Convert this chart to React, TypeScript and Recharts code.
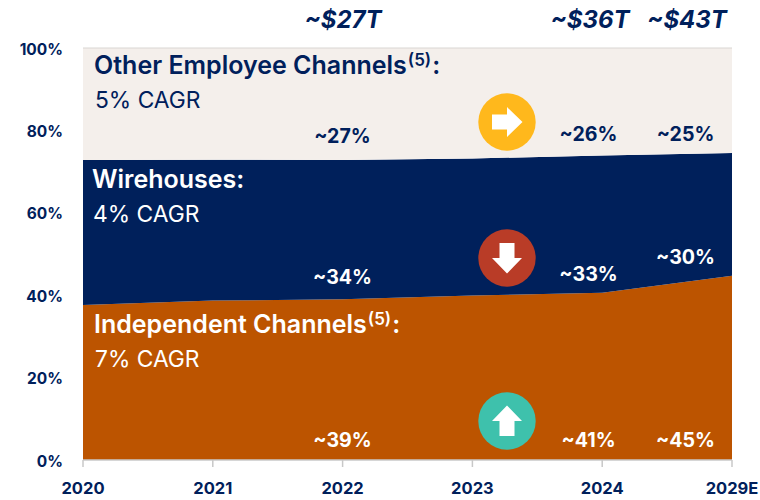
import React from "react";
import { AreaChart, Area, XAxis, YAxis, ReferenceLine, ReferenceDot } from "recharts";

const years = ["2020", "2021", "2022", "2023", "2024", "2029E"];
const independent = [37.6, 38.7, 39.0, 39.9, 40.6, 44.7];
const wirehouses = [35.2, 34.2, 33.8, 33.3, 33.3, 29.8];
const otherEmployee = [27.2, 27.1, 27.2, 26.8, 26.1, 25.5];
const yTicks = [0, 20, 40, 60, 80, 100];

const data = years.map((year, i) => ({
  year,
  independent: independent[i],
  wirehouses: wirehouses[i],
  otherEmployee: otherEmployee[i],
}));

const NAVY = "#00205B";
const ORANGE = "#BC5400";
const CREAM = "#F4EFEB";
const GRAY = "#C8C8C8";
const FONT = "Inter, sans-serif";
const WIDTH = 760;
const HEIGHT = 500;

const totals = [
  { label: "~$27T", x: 343 },
  { label: "~$36T", x: 590 },
  { label: "~$43T", x: 687 },
];

const shares = [
  { label: "~27%", x: 342.5, y: 143, color: NAVY },
  { label: "~26%", x: 588.5, y: 141, color: NAVY },
  { label: "~25%", x: 685.5, y: 141, color: NAVY },
  { label: "~34%", x: 342.5, y: 284, color: "#fff" },
  { label: "~33%", x: 588.5, y: 280.5, color: "#fff" },
  { label: "~30%", x: 685.5, y: 264, color: "#fff" },
  { label: "~39%", x: 342.5, y: 446.5, color: "#fff" },
  { label: "~41%", x: 588.5, y: 446.5, color: "#fff" },
  { label: "~45%", x: 685.5, y: 446.5, color: "#fff" },
];

function Heading({ x, y, color, title, sup, cagr }: { x: number; y: number; color: string; title: string; sup?: boolean; cagr: string }) {
  return (
    <g fontFamily={FONT} fill={color}>
      <text x={x} y={y} fontSize={25} fontWeight={600}>
        {title}
        {sup && (
          <tspan fontSize={17} dx={1} dy={-8}>
            (5)
          </tspan>
        )}
        <tspan dx={sup ? 1 : 0} dy={sup ? 8 : 0}>:</tspan>
      </text>
      <text x={x + 1} y={y + 34} fontSize={22.8} fontWeight={400}>
        {cagr}
      </text>
    </g>
  );
}

function Arrow({ cy, color, rotate }: { cy: number; color: string; rotate: number }) {
  const cx = 507;
  return (
    <g>
      <circle cx={cx} cy={cy} r={28.7} fill={color} />
      <path
        d="M-15,-7.5 L0,-7.5 L0,-15 L15.5,0 L0,15 L0,7.5 L-15,7.5 Z"
        fill="#fff"
        transform={`translate(${cx} ${cy}) rotate(${rotate})`}
      />
    </g>
  );
}

function Overlay() {
  return (
    <g>
      <Heading x={94} y={74} color={NAVY} title="Other Employee Channels" sup cagr="5% CAGR" />
      <Heading x={92} y={188} color="#fff" title="Wirehouses" cagr="4% CAGR" />
      <Heading x={94} y={333} color="#fff" title="Independent Channels" sup cagr="7% CAGR" />
      <Arrow cy={122} color="#FFB81C" rotate={0} />
      <Arrow cy={258} color="#B93C27" rotate={90} />
      <Arrow cy={421} color="#3EC1AC" rotate={-90} />
      {totals.map((t) => (
        <text key={t.label} x={t.x} y={28} textAnchor="middle" fontFamily={FONT} fontSize={24} fontWeight={700} fontStyle="italic" fill={NAVY}>
          {t.label}
        </text>
      ))}
      {shares.map((s) => (
        <text key={s.label} x={s.x} y={s.y} textAnchor="middle" fontFamily={FONT} fontSize={19.6} fontWeight={700} fill={s.color}>
          {s.label}
        </text>
      ))}
    </g>
  );
}

export default function App() {
  return (
    <div style={{ position: "absolute", left: 0, top: 0, width: WIDTH, height: HEIGHT }}>
      <AreaChart width={WIDTH} height={HEIGHT} data={data} margin={{ top: 48, right: 28, bottom: 0, left: 0 }}>
        <XAxis
          dataKey="year"
          height={40}
          interval={0}
          stroke={GRAY}
          tickSize={7}
          tickMargin={15.5}
          tickLine={{ stroke: GRAY, strokeWidth: 1.5 }}
          axisLine={{ stroke: GRAY, strokeWidth: 1.5 }}
          tick={{ fill: NAVY, fontFamily: FONT, fontSize: 16.5, fontWeight: 700 }}
        />
        <YAxis
          width={83}
          domain={[0, 100]}
          ticks={yTicks}
          axisLine={false}
          tickLine={false}
          tickMargin={20}
          tickSize={0}
          tickFormatter={(v: number) => `${v}%`}
          tick={{ fill: NAVY, fontFamily: FONT, fontSize: 15.5, fontWeight: 700, dy: 1 }}
        />
        <Area type="linear" dataKey="independent" stackId="a" fill={ORANGE} fillOpacity={1} stroke="none" isAnimationActive={false} />
        <Area type="linear" dataKey="wirehouses" stackId="a" fill={NAVY} fillOpacity={1} stroke="none" isAnimationActive={false} />
        <Area type="linear" dataKey="otherEmployee" stackId="a" fill={CREAM} fillOpacity={1} stroke="none" isAnimationActive={false} />
        <ReferenceLine y={100} stroke="#D9D6D3" strokeWidth={1} />
        <ReferenceDot x="2022" y={50} r={0} shape={() => <Overlay />} />
      </AreaChart>
    </div>
  );
}
